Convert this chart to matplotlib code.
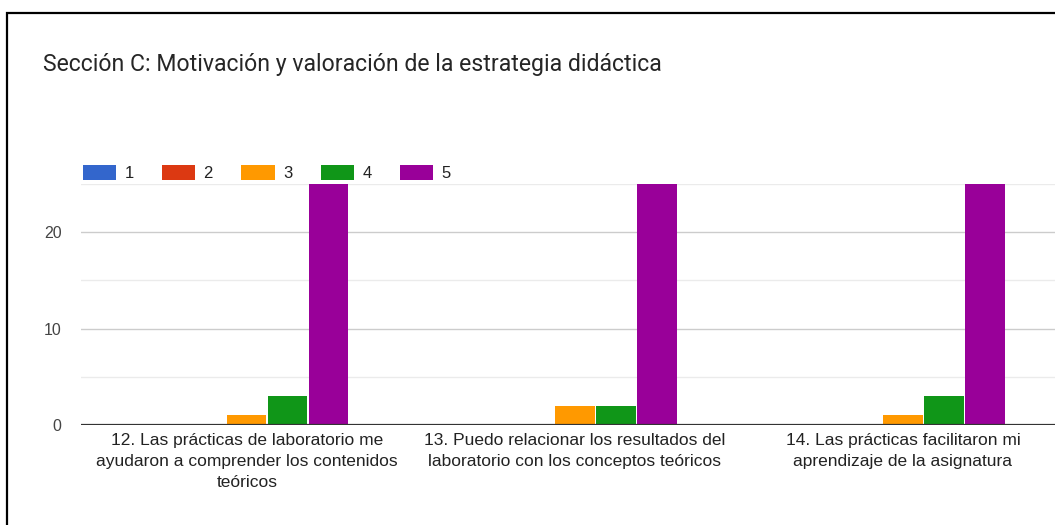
import matplotlib
matplotlib.use("Agg")
import matplotlib.pyplot as plt
from matplotlib.patches import Rectangle, Patch
import numpy as np

categories = [
    "12. Las prácticas de laboratorio me\nayudaron a comprender los contenidos\nteóricos",
    "13. Puedo relacionar los resultados del\nlaboratorio con los conceptos teóricos",
    "14. Las prácticas facilitaron mi\naprendizaje de la asignatura",
]
series_names = ["1", "2", "3", "4", "5"]
values = {
    "1": [0, 0, 0],
    "2": [0, 0, 0],
    "3": [1, 2, 1],
    "4": [3, 2, 3],
    "5": [25, 25, 25],
}
colors = ["#3366cc", "#dc3912", "#ff9900", "#109618", "#990099"]
yticks = [0, 10, 20]
title = "Sección C: Motivación y valoración de la estrategia didáctica"

W, H = 1055, 525
fig = plt.figure(figsize=(W / 100, H / 100), dpi=100)
fig.patch.set_facecolor("white")

# outer frame
fig.patches.append(Rectangle((7 / W, -0.05), 1.2, (525 - 13) / H + 0.05,
                             transform=fig.transFigure, fill=False,
                             edgecolor="black", linewidth=1.6, zorder=0))

ax_left = 81 / W
ax_width = (1067 - 81) / W
ax_bottom = (H - 425) / H
ax_height = (425 - 184) / H
ax = fig.add_axes([ax_left, ax_bottom, ax_width, ax_height])

x = np.arange(len(categories))
slot = 0.125
bw = 0.119
handles = []
for i, name in enumerate(series_names):
    off = (i - 2) * slot
    ax.bar(x + off, values[name], width=bw, color=colors[i], zorder=3,
           clip_on=True)
    handles.append(Patch(facecolor=colors[i], edgecolor="none"))

ax.set_xlim(-0.506, 2.5)
ax.set_ylim(0, 25)
ax.set_yticks(yticks)
ax.set_yticks([5, 15, 25], minor=True)
ax.grid(axis="y", which="major", color="#cccccc", linewidth=1.0, zorder=0)
ax.grid(axis="y", which="minor", color="#ebebeb", linewidth=1.0, zorder=0)
ax.axhline(0, color="#333333", linewidth=1.6, zorder=4)
for s in ax.spines.values():
    s.set_visible(False)
ax.tick_params(axis="y", which="both", length=0, pad=14, labelsize=11.5,
               labelcolor="#444444")
ax.tick_params(axis="x", length=0, pad=6, labelsize=12.5, labelcolor="#222222")
ax.set_xticks(x)
ax.set_xticklabels(categories, family="Liberation Sans", linespacing=1.47)
for lab in ax.get_yticklabels():
    lab.set_family("Liberation Sans")

fig.text(43 / W, (H - 64) / H, title, family="Roboto", fontsize=16.6,
         color="#262626", va="center", ha="left")

leg = fig.legend(handles, series_names, loc="center left",
                 bbox_to_anchor=(76 / W, (H - 173) / H), ncol=5, frameon=False,
                 handlelength=2.0, handleheight=1.0,
                 handletextpad=0.5, columnspacing=1.7, borderaxespad=0,
                 prop={"family": "Liberation Sans", "size": 12})
for t in leg.get_texts():
    t.set_color("#222222")

fig.savefig("out.png", dpi=100)
